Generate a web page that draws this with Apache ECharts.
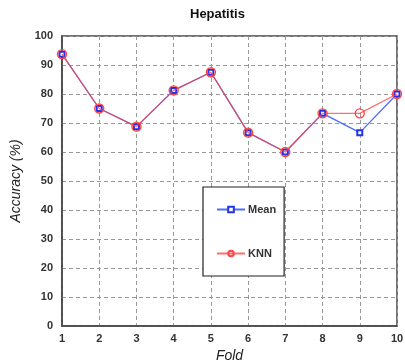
<!DOCTYPE html>
<html>
<head>
<meta charset="utf-8">
<script src="https://cdn.jsdelivr.net/npm/echarts@6/dist/echarts.min.js"></script>
<style>
  html, body { margin: 0; padding: 0; background: #fff; }
  #chart { width: 405px; height: 362px; }
</style>
</head>
<body>
<div id="chart"></div>
<script>
// Per-fold classification accuracy on the Hepatitis dataset
const folds = ['1', '2', '3', '4', '5', '6', '7', '8', '9', '10'];
const meanAcc = [93.75, 75.0, 68.75, 81.25, 87.5, 66.67, 60.0, 73.33, 66.67, 80.0];
const knnAcc  = [93.75, 75.0, 68.75, 81.25, 87.5, 66.67, 60.0, 73.33, 73.33, 80.0];
const yTicks = { min: 0, max: 100, step: 10 };

const chart = echarts.init(document.getElementById('chart'));
const labelFont = { color: '#333', fontWeight: 'bold', fontSize: 11, fontFamily: 'Liberation Sans, Arial, sans-serif' };
const dashed = { show: true, lineStyle: { color: '#999', type: [4, 3], width: 1 } };

chart.setOption({
  backgroundColor: '#fff',
  animation: false,
  title: {
    text: 'Hepatitis',
    left: 185, top: 3,
    textStyle: { fontSize: 13, fontWeight: 'bold', color: '#111', fontFamily: 'Liberation Sans, Arial, sans-serif' }
  },
  grid: {
    left: 62, right: 8, top: 36, bottom: 36,
    outerBoundsMode: 'none',
    containLabel: false,
    show: true, borderColor: '#444', borderWidth: 1.5, backgroundColor: '#fff'
  },
  legend: {
    orient: 'vertical',
    left: 203, top: 187,
    padding: [17, 8, 17, 13],
    itemGap: 33,
    itemWidth: 28, itemHeight: 7,
    backgroundColor: '#fff',
    borderColor: '#222', borderWidth: 1.2,
    textStyle: { ...labelFont, fontSize: 11, padding: [0, 0, 0, -2] },
    data: ['Mean', 'KNN']
  },
  xAxis: {
    type: 'category',
    data: folds,
    boundaryGap: false,
    name: 'Fold',
    nameLocation: 'middle',
    nameGap: 19,
    nameTextStyle: { fontSize: 14, fontStyle: 'italic', color: '#222', fontFamily: 'Liberation Sans, Arial, sans-serif' },
    axisLine: { show: true, lineStyle: { color: '#444', width: 1.5 } },
    axisTick: { show: false },
    axisLabel: { ...labelFont, margin: 7 },
    splitLine: dashed
  },
  yAxis: {
    type: 'value',
    min: yTicks.min, max: yTicks.max, interval: yTicks.step,
    name: 'Accuracy (%)',
    nameLocation: 'middle',
    nameGap: 39,
    nameTextStyle: { fontSize: 14, fontStyle: 'italic', color: '#222', fontFamily: 'Liberation Sans, Arial, sans-serif' },
    axisLine: { show: true, lineStyle: { color: '#444', width: 1.5 } },
    axisTick: { show: false },
    axisLabel: { ...labelFont, margin: 9 },
    splitLine: dashed
  },
  series: [
    {
      name: 'Mean',
      type: 'line',
      data: meanAcc,
      color: '#4a6cff',
      symbol: 'emptyRect',
      symbolSize: 5,
      lineStyle: { width: 1.3, color: '#4a6cff' },
      itemStyle: { color: '#2233ee', borderColor: '#2233ee', borderWidth: 1.3 },
      z: 2
    },
    {
      name: 'KNN',
      type: 'line',
      data: knnAcc,
      color: '#ff4444',
      symbol: 'circle',
      symbolSize: 9,
      lineStyle: { width: 1.3, color: '#ff3f3f', opacity: 0.75 },
      itemStyle: { color: 'rgba(0,0,0,0)', borderColor: '#ff4444', borderWidth: 1.4 },
      z: 3
    }
  ]
});
</script>
</body>
</html>
